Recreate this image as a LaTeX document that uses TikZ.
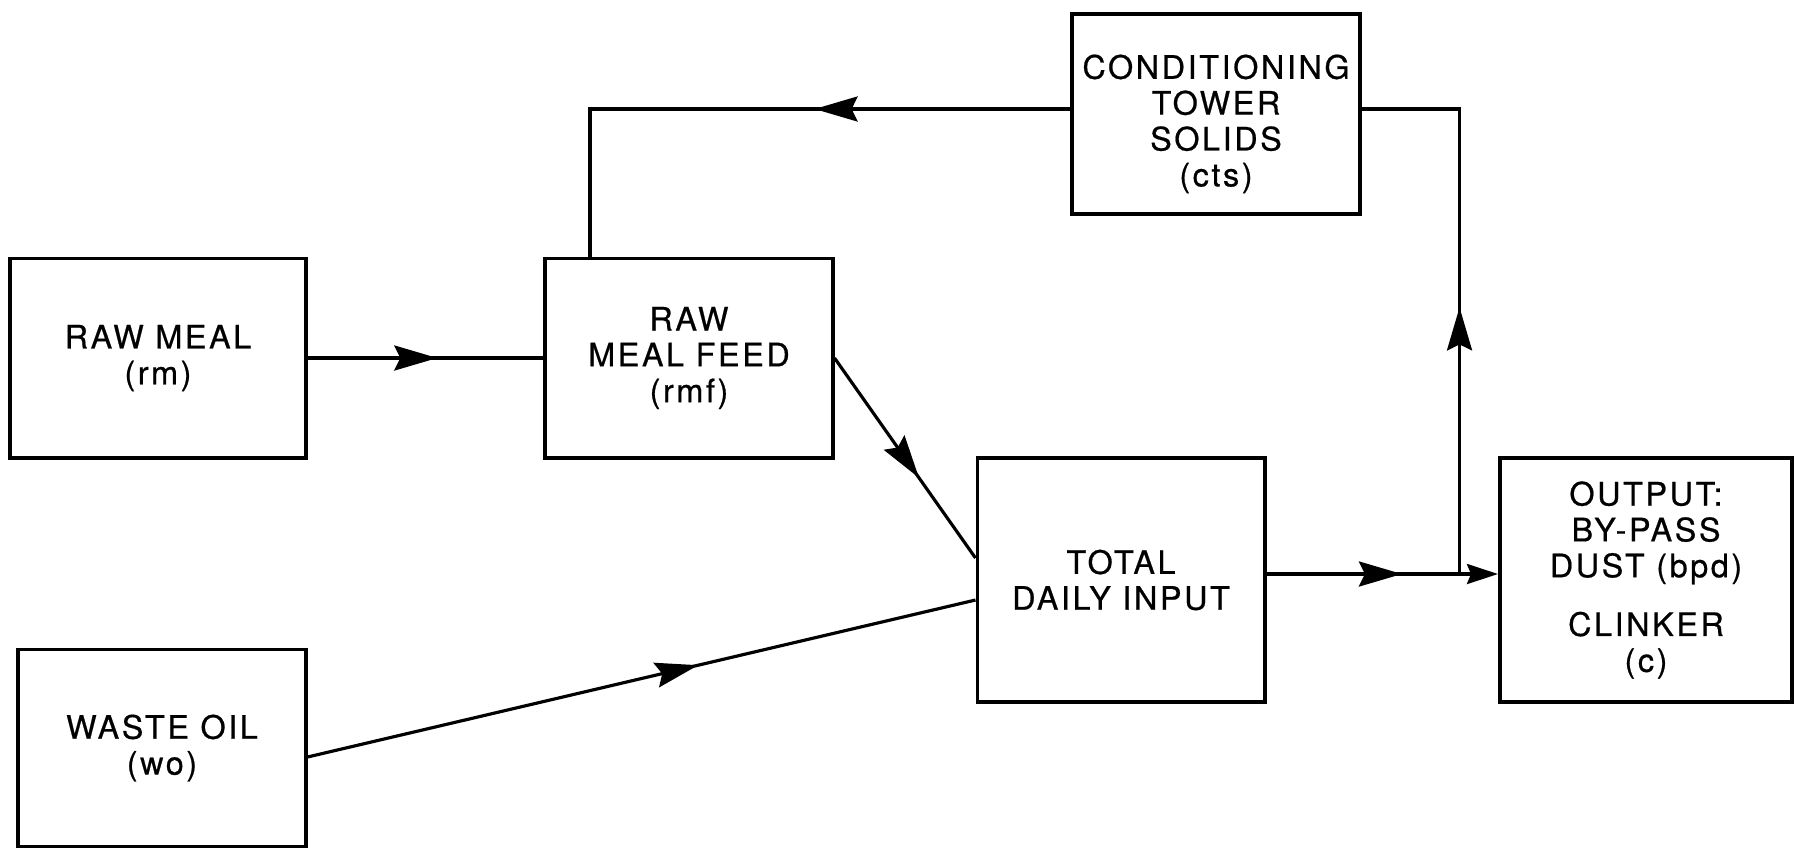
\documentclass[tikz,border=0pt]{standalone}
\usepackage{fontspec}
\setmainfont{TeX Gyre Heros}[LetterSpace=8,FakeBold=0.6]
\usetikzlibrary{arrows.meta,calc,positioning,decorations.markings}
\tikzset{>=Stealth,line width=.9pt,
  every node/.style={font=\fontsize{9.2}{10.2}\selectfont},
  block/.style={draw,line width=1.1pt,align=center,inner sep=2pt},
  flow/.style={draw,line width=.9pt},
  midarrow/.style={postaction={decorate,decoration={markings,
    mark=at position #1 with {\arrow{Stealth[length=.43cm,width=.25cm,inset=.06cm]}}}}}}

\begin{document}
\begin{tikzpicture}[x=.01cm,y=.01cm]
\useasboundingbox (0,0) rectangle (1795,847);
% blocks
\node[block,minimum width=2.95cm,minimum height=1.99cm] (rm) at (158,489) {RAW MEAL\\(rm)};
\node[block,minimum width=2.87cm,minimum height=1.99cm] (rmf) at (689,489) {RAW\\MEAL FEED\\(rmf)};
\node[block,minimum width=2.88cm,minimum height=2.00cm] (cts) at (1216,733) {\rule{0pt}{12.5pt}CONDITIONING\\TOWER\\SOLIDS\\(cts)};
\node[block,minimum width=2.87cm,minimum height=2.44cm] (tdi) at (1121,267) {TOTAL\\DAILY INPUT};
\node[block,minimum width=2.92cm,minimum height=2.44cm] (out) at (1646,267) {OUTPUT:\\BY-PASS\\DUST (bpd)\\[6.5pt]CLINKER\\(c)};
\node[block,minimum width=2.87cm,minimum height=1.97cm] (wo) at (162,99) {WASTE OIL\\(wo)};
\coordinate (split) at ($(tdi.east)+(193,6)$);
% flows
\draw[flow,midarrow=.55] (rm) -- (rmf);
\draw[flow,midarrow=.6] (rmf.east) -- ($(tdi.west)+(0,22)$);
\draw[flow,midarrow=.585] ($(wo.east)+(0,-9)$) -- ($(tdi.west)+(0,-20)$);
\draw[flow,midarrow=.585,-{Stealth[length=.31cm,width=.2cm,inset=.04cm]}] ($(tdi.east)+(0,6)$) -- ($(out.west)+(0,6)$);
\draw[flow,midarrow=.474] (split) |- ($(cts.east)+(0,5)$);
\draw[flow,midarrow=.407] ($(cts.west)+(0,5)$) -| ($(rmf.north)+(-99,0)$);
\end{tikzpicture}
\end{document}
